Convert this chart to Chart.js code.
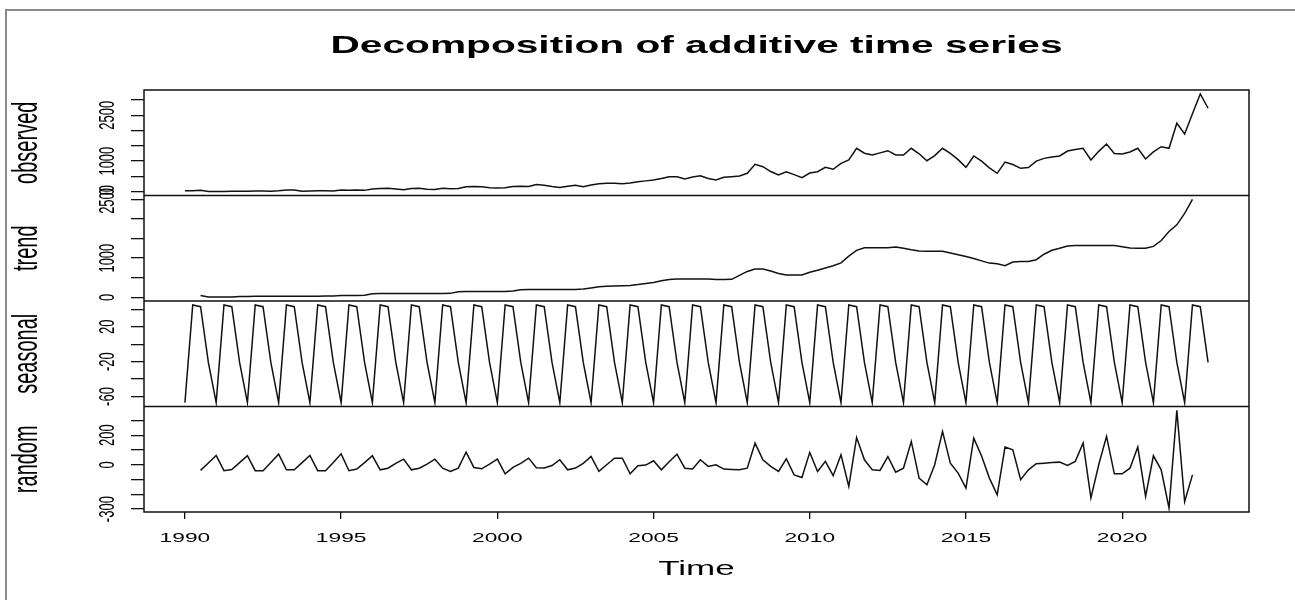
<!DOCTYPE html>
<html><head><meta charset="utf-8">
<script src="https://cdn.jsdelivr.net/npm/chart.js@4.4.1/dist/chart.umd.min.js"></script>
<style>html,body{margin:0;padding:0;background:#fff;overflow:hidden}canvas{display:block}</style>
</head><body>
<canvas id="c" width="1295" height="600"></canvas>
<script>
const chartTitle = 'Decomposition of additive time series';
const panelNames = ['observed', 'trend', 'seasonal', 'random'];
const xTitle = 'Time';
const startYear = 1990;
const frequency = 4;

const observed = [30,30,45,5, 5,10,20,15, 17,26,25,16, 30,55,55,20, 24,30,30,22, 53,50,58,45,
  90,105,112,88, 65,105,112,80, 70,112,95,105, 165,170,160,130, 120,130,172,180, 175,240,215,170,
  135,180,210,165, 220,260,280,275, 262,285,330,355, 383,430,491,491, 415,480,520,430, 383,470,491,514,
  602,896,818,660, 546,654,560,458, 610,654,798,733, 929,1037,1420,1260, 1200,1270,1341,1200,
  1200,1420,1240,1014, 1180,1420,1250,1050, 798,1168,1000,780, 602,970,890,765, 790,1000,1090,1135,
  1170,1330,1380,1420, 1037,1320,1560,1250, 1233,1300,1420,1070, 1300,1472,1420,2237, 1888,2550,3196,2728];

const trend = [null,null,43,10, 5,5,8,20, 22,24,25,25, 25,26,27,27, 27,28,30,35, 45,46,47,50,
  92,94,95,95, 95,96,96,96, 96,97,100,140, 145,146,146,147, 147,148,160,195, 196,196,196,197,
  197,198,200,210, 240,268,282,288, 292,300,325,355, 375,420,455,467, 467,468,468,467, 455,452,458,560,
  660,720,720,670, 610,570,569,570, 640,690,750,805, 880,1050,1200,1263, 1265,1265,1268,1285,
  1250,1215,1185,1178, 1178,1175,1130,1085, 1042,990,930,873, 856,805,900,912, 915,960,1100,1200,
  1255,1310,1321,1321, 1321,1321,1321,1321, 1290,1260,1255,1255, 1300,1450,1680,1850, 2144,2500,null,null];

const seasonal = [-67,45,43,-21, -67,45,43,-21, -67,45,43,-21, -67,45,43,-21, -67,45,43,-21, -67,45,43,-21,
  -67,45,43,-21, -67,45,43,-21, -67,45,43,-21, -67,45,43,-21, -67,45,43,-21, -67,45,43,-21,
  -67,45,43,-21, -67,45,43,-21, -67,45,43,-21, -67,45,43,-21, -67,45,43,-21, -67,45,43,-21,
  -67,45,43,-21, -67,45,43,-21, -67,45,43,-21, -67,45,43,-21, -67,45,43,-21, -67,45,43,-21,
  -67,45,43,-21, -67,45,43,-21, -67,45,43,-21, -67,45,43,-21, -67,45,43,-21, -67,45,43,-21,
  -67,45,43,-21, -67,45,43,-21, -67,45,43,-21];

const random = [null,null,-38,12, 63,-40,-32,15, 61,-40,-40,15, 72,-34,-34,15, 63,-40,-40,15, 74,-40,-29,15,
  61,-34,-23,10, 38,-34,-23,5, 38,-23,-45,-23, 86,-18,-27,5, 38,-61,-18,10, 45,-20,-22,-5,
  34,-34,-22,10, 56,-45,0,45, 45,-61,-7,-2, 27,-34,20,72, -23,-29,34,-11, 0,-29,-32,-34,
  -23,147,34,-11, -45,41,-68,-86, 84,-45,23,-74, 68,-146,185,34, -34,-38,56,-50,
  -23,158,-90,-135, 0,226,11,-56, -158,180,60,-90, -203,120,101,-101, -34,7,11,15,
  18,-4,23,147, -225,0,192,-61, -61,-23,120,-214, 61,-34,-293,368, -250,-68,null,null];

const xTickValues = [1990, 1995, 2000, 2005, 2010, 2015, 2020];
const observedTicks = [0, 500, 1000, 1500, 2000, 2500, 3000];
const observedTickLabels = [0, 1000, 2500];
const trendTicks = [0, 500, 1000, 1500, 2000, 2500];
const trendTickLabels = [0, 1000, 2500];
const seasonalTicks = [-60, -40, -20, 0, 20, 40];
const seasonalTickLabels = [-60, -20, 20];
const randomTicks = [-300, -200, -100, 0, 100, 200, 300];
const randomTickLabels = [-300, 0, 200];

// ---- build ----
const time = observed.map((_, i) => startYear + i / frequency);
const toPoints = arr => arr.map((v, i) => ({x: time[i], y: v}));
function paddedRange(arr) {
  const v = arr.filter(a => a !== null);
  const lo = Math.min(...v), hi = Math.max(...v), p = (hi - lo) * 0.04;
  return [lo - p, hi + p];
}
const xr = paddedRange(time);
const STRETCH = 1.75;
const FONT = '"Liberation Sans", Arial, sans-serif';

function yAxis(series, ticks, weight) {
  const [mn, mx] = paddedRange(series);
  return {
    type: 'linear', position: 'left', stack: 'panels', stackWeight: 1, weight: weight,
    min: mn, max: mx,
    afterBuildTicks: s => { s.ticks = ticks.map(v => ({value: v})); },
    afterFit: s => { s.width = 20; },
    ticks: {display: false},
    grid: {drawOnChartArea: false, drawTicks: true, tickLength: 13, color: '#111', lineWidth: 1.3},
    border: {display: false}
  };
}
function ds(label, series, axis) {
  return {label: label, data: toPoints(series), yAxisID: axis, borderColor: '#111', borderWidth: 1.5,
    pointRadius: 0, tension: 0, fill: false, spanGaps: false};
}

function drawText(ctx, str, x, y, font, rotate, align, baseline) {
  ctx.save();
  ctx.translate(x, y);
  ctx.scale(STRETCH, 1);
  if (rotate) ctx.rotate(-Math.PI / 2);
  ctx.font = font;
  ctx.fillStyle = '#000';
  ctx.textAlign = align;
  ctx.textBaseline = baseline;
  ctx.fillText(str, 0, 0);
  ctx.restore();
}

const axisIds = ['yObs', 'yTrend', 'ySeas', 'yRand'];
const labelSets = [observedTickLabels, trendTickLabels, seasonalTickLabels, randomTickLabels];

const framePlugin = {
  id: 'rframe',
  beforeDraw(chart) {
    const ctx = chart.ctx;
    ctx.save();
    ctx.fillStyle = '#fff';
    ctx.fillRect(0, 0, chart.width, chart.height);
    ctx.strokeStyle = '#8a8a8a';
    ctx.lineWidth = 2;
    ctx.strokeRect(6, 10, chart.width + 20, chart.height + 20);
    ctx.restore();
  },
  afterDraw(chart) {
    const ctx = chart.ctx;
    const a = chart.chartArea;
    ctx.save();
    ctx.strokeStyle = '#111';
    ctx.lineWidth = 1.5;
    ctx.strokeRect(a.left, a.top, a.right - a.left, a.bottom - a.top);
    for (let i = 0; i < axisIds.length - 1; i++) {
      const s = chart.scales[axisIds[i]];
      ctx.beginPath();
      ctx.moveTo(a.left, s.bottom);
      ctx.lineTo(a.right, s.bottom);
      ctx.stroke();
    }
    ctx.restore();

    // texts
    const ctx2 = chart.ctx;
    ctx2.save();
    ctx2.font = 'bold 23px ' + FONT;
    const natural = ctx2.measureText(chartTitle).width;
    ctx2.restore();
    ctx2.save();
    ctx2.translate((a.left + a.right) / 2, 53);
    ctx2.scale(732 / natural, 1);
    ctx2.font = 'bold 23px ' + FONT;
    ctx2.fillStyle = '#000';
    ctx2.textAlign = 'center';
    ctx2.textBaseline = 'alphabetic';
    ctx2.fillText(chartTitle, 0, 0);
    ctx2.restore();

    axisIds.forEach((id, i) => {
      const s = chart.scales[id];
      drawText(ctx2, panelNames[i], 37, (s.top + s.bottom) / 2, '20px ' + FONT, true, 'center', 'alphabetic');
      labelSets[i].forEach(v => {
        drawText(ctx2, String(v), 114, s.getPixelForValue(v), '13px ' + FONT, true, 'center', 'alphabetic');
      });
    });
    const xs = chart.scales.x;
    xTickValues.forEach(v => {
      drawText(ctx2, String(v), xs.getPixelForValue(v), 542, '13px ' + FONT, false, 'center', 'alphabetic');
    });
    drawText(ctx2, xTitle, (a.left + a.right) / 2, 575, '20px ' + FONT, false, 'center', 'alphabetic');
  }
};

new Chart(document.getElementById('c'), {
  type: 'line',
  data: {datasets: [
    ds('observed', observed, 'yObs'),
    ds('trend', trend, 'yTrend'),
    ds('seasonal', seasonal, 'ySeas'),
    ds('random', random, 'yRand')
  ]},
  options: {
    responsive: false, animation: false, devicePixelRatio: 1,
    layout: {padding: {left: 124, right: 46, top: 90, bottom: 68}},
    plugins: {legend: {display: false}, tooltip: {enabled: false}, title: {display: false}},
    scales: {
      x: {
        type: 'linear', position: 'bottom', min: xr[0], max: xr[1],
        afterBuildTicks: s => { s.ticks = xTickValues.map(v => ({value: v})); },
        afterFit: s => { s.height = 20; },
        ticks: {display: false},
        grid: {drawOnChartArea: false, drawTicks: true, tickLength: 7, color: '#111', lineWidth: 1.3},
        border: {display: false}
      },
      yObs: yAxis(observed, observedTicks, 4),
      yTrend: yAxis(trend, trendTicks, 3),
      ySeas: yAxis(seasonal, seasonalTicks, 2),
      yRand: yAxis(random, randomTicks, 1)
    }
  },
  plugins: [framePlugin]
});
</script>
</body></html>
